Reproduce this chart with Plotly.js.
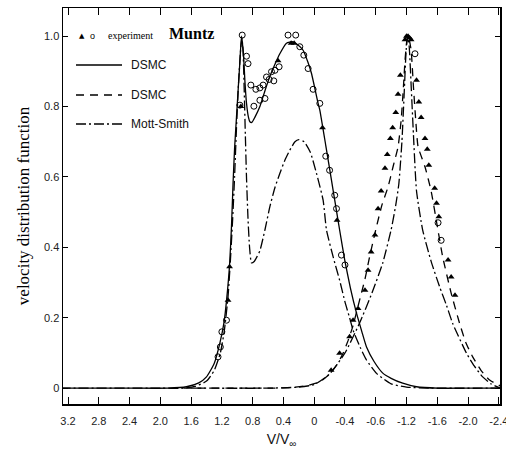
<!DOCTYPE html>
<html>
<head>
<meta charset="utf-8">
<script src="https://cdn.plot.ly/plotly-3.0.1.min.js"></script>
<style>html,body{margin:0;padding:0;background:#fff;}#chart{width:506px;height:452px;}</style>
</head>
<body>
<div id="chart"></div>
<script>
// ---- Data ----
var xTickVals = [3.2, 2.8, 2.4, 2.0, 1.6, 1.2, 0.8, 0.4, 0, -0.4, -0.8, -1.2, -1.6, -2.0, -2.4];
var xTickText = ["3.2", "2.8", "2.4", "2.0", "1.6", "1.2", "0.8", "0.4", "0", "-0.4", "-0.6", "-1.2", "-1.6", "-2.0", "-2.4"];
var yTickVals = [0, 0.2, 0.4, 0.6, 0.8, 1.0];
var yTickText = ["0", "0.2", "0.4", "0.6", "0.8", "1.0"];

// DSMC solid (upstream-side double peak)
var dsmcSolidX = [3.3, 2.4, 1.9, 1.66, 1.5, 1.40, 1.30, 1.226, 1.17, 1.139, 1.10, 1.075, 1.055, 1.035, 1.01, 0.985, 0.965, 0.945, 0.92, 0.90, 0.88, 0.855, 0.836, 0.81, 0.77, 0.706, 0.64, 0.577, 0.51, 0.447, 0.36, 0.278, 0.21, 0.144, 0.08, 0.035, -0.05, -0.073, -0.15, -0.225, -0.267, -0.33, -0.397, -0.47, -0.55, -0.62, -0.68, -0.78, -0.895, -1.0, -1.15, -1.33, -1.6, -2.0, -2.42];
var dsmcSolidY = [0, 0, 0, 0.004, 0.015, 0.032, 0.07, 0.128, 0.19, 0.25, 0.35, 0.46, 0.58, 0.68, 0.77, 0.86, 0.93, 1.0, 0.95, 0.87, 0.81, 0.77, 0.757, 0.755, 0.77, 0.80, 0.845, 0.885, 0.92, 0.95, 0.98, 0.984, 0.975, 0.96, 0.925, 0.894, 0.81, 0.79, 0.69, 0.59, 0.534, 0.45, 0.364, 0.285, 0.213, 0.16, 0.117, 0.075, 0.042, 0.028, 0.014, 0.004, 0, 0, 0];

// Mott-Smith dash-dot, left group
var mottLeftX = [3.3, 2.0, 1.7, 1.55, 1.40, 1.30, 1.22, 1.17, 1.12, 1.09, 1.06, 1.035, 1.01, 0.985, 0.96, 0.94, 0.925, 0.91, 0.895, 0.88, 0.86, 0.84, 0.815, 0.78, 0.74, 0.706, 0.64, 0.577, 0.51, 0.447, 0.38, 0.317, 0.25, 0.20, 0.13, 0.05, -0.03, -0.116, -0.16, -0.25, -0.33, -0.40, -0.46, -0.505, -0.60, -0.68, -0.81, -1.0, -1.2, -1.5, -2.42];
var mottLeftY = [0, 0, 0, 0.005, 0.02, 0.05, 0.10, 0.16, 0.26, 0.36, 0.48, 0.60, 0.74, 0.86, 0.95, 0.995, 0.96, 0.85, 0.72, 0.60, 0.48, 0.40, 0.356, 0.36, 0.375, 0.39, 0.45, 0.515, 0.57, 0.61, 0.648, 0.676, 0.70, 0.706, 0.70, 0.67, 0.61, 0.534, 0.449, 0.37, 0.307, 0.245, 0.2, 0.165, 0.115, 0.08, 0.042, 0.012, 0.003, 0, 0];

// DSMC dashed, right group
var dsmcDashX = [1.7, 1.0, 0.5, 0.3, 0.1, -0.073, -0.2, -0.3, -0.375, -0.44, -0.50, -0.59, -0.66, -0.72, -0.80, -0.88, -0.96, -1.025, -1.09, -1.13, -1.16, -1.18, -1.20, -1.215, -1.235, -1.26, -1.29, -1.32, -1.35, -1.44, -1.52, -1.60, -1.67, -1.78, -1.89, -1.97, -2.06, -2.17, -2.28, -2.45];
var dsmcDashY = [0, 0, 0, 0.002, 0.007, 0.018, 0.04, 0.068, 0.099, 0.135, 0.174, 0.25, 0.31, 0.373, 0.45, 0.52, 0.572, 0.629, 0.686, 0.761, 0.856, 0.93, 0.98, 1.0, 0.99, 0.96, 0.856, 0.761, 0.686, 0.629, 0.56, 0.46, 0.373, 0.27, 0.184, 0.13, 0.089, 0.05, 0.023, 0.003];

// Mott-Smith dash-dot, right group
var mottRightX = [1.6, 0.6, 0.2, 0.0, -0.2, -0.4, -0.59, -0.75, -0.89, -1.0, -1.06, -1.10, -1.14, -1.17, -1.195, -1.215, -1.235, -1.26, -1.29, -1.33, -1.41, -1.52, -1.63, -1.72, -1.80, -1.98, -2.08, -2.19, -2.30, -2.42];
var mottRightY = [0, 0, 0.003, 0.01, 0.04, 0.10, 0.185, 0.27, 0.355, 0.45, 0.52, 0.58, 0.70, 0.84, 0.96, 1.0, 0.97, 0.86, 0.72, 0.56, 0.449, 0.36, 0.288, 0.235, 0.184, 0.099, 0.063, 0.032, 0.012, 0.0];

// Experiment (Muntz): filled triangles
var triX = [1.12, 1.10, 0.953, 0.47, 0.30, 0.26, -0.108, -0.297,
  -0.22, -0.33, -0.46, -0.505, -0.57, -0.66, -0.70, -0.74, -0.79, -0.83, -0.87, -0.92, -0.95, -0.99, -1.02, -1.06, -1.09, -1.12,
  -1.18, -1.20, -1.22, -1.24, -1.26,
  -1.33, -1.36, -1.39, -1.44, -1.47, -1.49, -1.566, -1.59, -1.62, -1.74, -1.78, -1.83];
var triY = [0.25, 0.345, 0.80, 0.93, 0.98, 0.98, 0.74, 0.477,
  0.051, 0.099, 0.146, 0.193, 0.226, 0.278, 0.335, 0.387, 0.435, 0.51, 0.56, 0.625, 0.664, 0.709, 0.74, 0.783, 0.835, 0.889,
  0.99, 1.0, 1.0, 0.995, 0.99,
  0.875, 0.813, 0.769, 0.709, 0.679, 0.633, 0.568, 0.525, 0.487, 0.364, 0.316, 0.264];

// Experiment (Muntz): open circles
var circX = [1.25, 1.22, 1.2, 1.14, 0.966, 0.936, 0.88, 0.86, 0.823, 0.784, 0.758, 0.706, 0.706, 0.664, 0.64, 0.62, 0.586, 0.555, 0.51, 0.456, 0.525, 0.34, 0.24, 0.187, 0.135, 0.079, 0.014, -0.073, -0.15, -0.20, -0.267, -0.29, -0.354, -0.40, -1.31, -1.61, -1.65];
var circY = [0.089, 0.117, 0.16, 0.193, 0.804, 1.003, 0.943, 0.922, 0.861, 0.801, 0.849, 0.853, 0.818, 0.861, 0.823, 0.884, 0.877, 0.899, 0.903, 0.913, 0.873, 1.003, 1.003, 0.97, 0.946, 0.908, 0.849, 0.809, 0.659, 0.619, 0.548, 0.51, 0.378, 0.35, 0.95, 0.47, 0.42];

var legendLabels = ["experiment", "Muntz", "DSMC", "DSMC", "Mott-Smith"];

// ---- Styles ----
var dashDot = "10px,3px,2px,3px";
var dashed = "8px,6px";

var traces = [
  {x: dsmcSolidX, y: dsmcSolidY, mode: "lines", line: {color: "#000", width: 1.3, shape: "spline", smoothing: 0.5}},
  {x: mottLeftX, y: mottLeftY, mode: "lines", line: {color: "#000", width: 1.3, dash: dashDot, shape: "spline", smoothing: 0.5}},
  {x: dsmcDashX, y: dsmcDashY, mode: "lines", line: {color: "#000", width: 1.3, dash: dashed, shape: "spline", smoothing: 0.5}},
  {x: mottRightX, y: mottRightY, mode: "lines", line: {color: "#000", width: 1.3, dash: dashDot, shape: "spline", smoothing: 0.5}},
  {x: triX, y: triY, mode: "markers", marker: {symbol: "triangle-up", size: 6, color: "#000"}},
  {x: circX, y: circY, mode: "markers", marker: {symbol: "circle-open", size: 6, color: "#000", line: {width: 1, color: "#000"}}}
];

function px(x) { return (x - 63) / 437; }
function py(y) { return (404 - y) / 396; }

var shapes = [
  {type: "line", xref: "paper", yref: "paper", x0: px(76), x1: px(122), y0: py(65), y1: py(65), line: {color: "#000", width: 1.3}},
  {type: "line", xref: "paper", yref: "paper", x0: px(76), x1: px(122), y0: py(95), y1: py(95), line: {color: "#000", width: 1.3, dash: dashed}},
  {type: "line", xref: "paper", yref: "paper", x0: px(76), x1: px(122), y0: py(124), y1: py(124), line: {color: "#000", width: 1.3, dash: dashDot}}
];

var sans = "Liberation Sans, Arial, sans-serif";
var serif = "Liberation Serif, Times New Roman, serif";
var annotations = [
  {xref: "paper", yref: "paper", x: px(82), y: py(36), text: "▲", showarrow: false, font: {family: "DejaVu Sans", size: 7, color: "#000"}, xanchor: "center", yanchor: "middle"},
  {xref: "paper", yref: "paper", x: px(92), y: py(36), text: "o", showarrow: false, font: {family: sans, size: 9, color: "#000"}, xanchor: "center", yanchor: "middle"},
  {xref: "paper", yref: "paper", x: px(106), y: py(35), text: legendLabels[0], showarrow: false, font: {family: serif, size: 10, color: "#000"}, xanchor: "left", yanchor: "middle"},
  {xref: "paper", yref: "paper", x: px(167), y: py(34), text: "<b>" + legendLabels[1] + "</b>", showarrow: false, font: {family: serif, size: 16, color: "#000"}, xanchor: "left", yanchor: "middle"},
  {xref: "paper", yref: "paper", x: px(129), y: py(65), text: legendLabels[2], showarrow: false, font: {family: sans, size: 12, color: "#111"}, xanchor: "left", yanchor: "middle"},
  {xref: "paper", yref: "paper", x: px(129), y: py(95), text: legendLabels[3], showarrow: false, font: {family: sans, size: 12, color: "#111"}, xanchor: "left", yanchor: "middle"},
  {xref: "paper", yref: "paper", x: px(129), y: py(124), text: legendLabels[4], showarrow: false, font: {family: sans, size: 12, color: "#111"}, xanchor: "left", yanchor: "middle"}
];

var layout = {
  width: 506, height: 452,
  margin: {l: 63, r: 6, t: 8, b: 48},
  paper_bgcolor: "#fff", plot_bgcolor: "#fff",
  showlegend: false,
  xaxis: {
    range: [3.265, -2.415],
    tickvals: xTickVals, ticktext: xTickText,
    ticks: "inside", ticklen: 7, tickwidth: 1, tickcolor: "#000",
    showline: true, linecolor: "#000", linewidth: 1.5, mirror: "ticks",
    showgrid: false, zeroline: false,
    ticklabeloverflow: "allow", ticklabelstandoff: 6,
    tickfont: {family: sans, size: 11, color: "#222"},
    title: {text: "V/V<sub>∞</sub>", font: {family: sans, size: 14, color: "#111"}, standoff: 8}
  },
  yaxis: {
    range: [-0.045, 1.08],
    tickvals: yTickVals, ticktext: yTickText,
    ticks: "inside", ticklen: 5, tickwidth: 1, tickcolor: "#000",
    showline: true, linecolor: "#000", linewidth: 1.5, mirror: "ticks",
    showgrid: false, zeroline: false,
    tickfont: {family: sans, size: 11, color: "#222"},
    title: {text: "velocity distribution function", font: {family: serif, size: 17, color: "#000"}, standoff: 10}
  },
  shapes: shapes,
  annotations: annotations
};

Plotly.newPlot("chart", traces, layout, {displayModeBar: false, staticPlot: true});
</script>
</body>
</html>
